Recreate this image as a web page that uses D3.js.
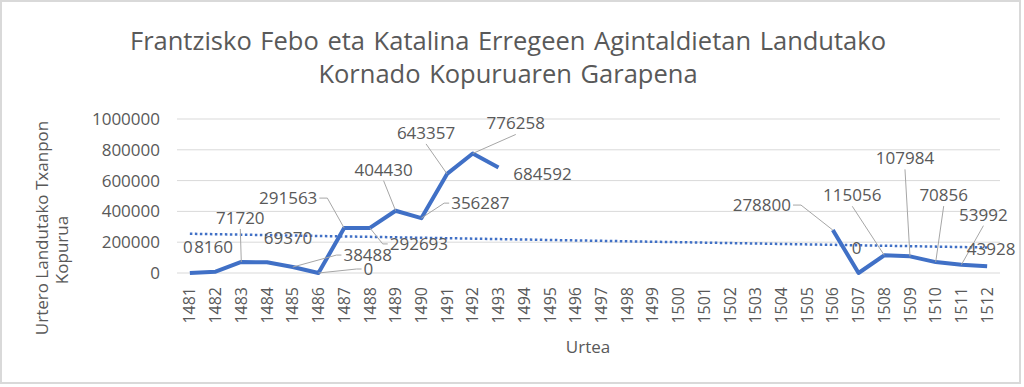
<!DOCTYPE html>
<html>
<head>
<meta charset="utf-8">
<script src="https://cdn.jsdelivr.net/npm/d3@7"></script>
<style>
  body { margin: 0; background: #fff; }
  text { font-family: "Open Sans", sans-serif; fill: #595959; }
</style>
</head>
<body>
<div class="chart"></div>
<script>
/* global d3 */
var years = d3.range(1481, 1513).map(String);
var values = [0, 8160, 71720, 69370, 38488, 0, 291563, 292693, 404430, 356287, 643357, 776258, 684592,
              null, null, null, null, null, null, null, null, null, null, null, null,
              278800, 0, 115056, 107984, 70856, 53992, 43928];
var yTicks = [0, 200000, 400000, 600000, 800000, 1000000];
var titleLines = ["Frantzisko Febo eta Katalina Erregeen Agintaldietan Landutako", "Kornado Kopuruaren Garapena"];

// label placement (offset of label centre from its point) and leader side
var labelDx = [-2, -2, -1, 21, 75, 50, -56, 49, -12, 59, -21, 43, 44,
               0, 0, 0, 0, 0, 0, 0, 0, 0, 0, 0, 0,
               -71, -2, -32, -5, 8, 22, 4];
var labelDy = [-26, -25, -44, -24, -12, -4, -30, 16, -41, -15, -41, -30, 6,
               0, 0, 0, 0, 0, 0, 0, 0, 0, 0, 0, 0,
               -25, -25, -60, -98, -67, -50, -17];
var leader = ["", "", "b", "", "l", "l", "r", "l", "b", "l", "b", "b", "",
              "", "", "", "", "", "", "", "", "", "", "", "",
              "r", "", "b", "b", "b", "b", ""];

make_chart();

function make_chart() {
  var width = 1024, height = 387;
  var blue = "#4070C6";

  var svg = d3.select(".chart").append("svg")
    .attr("width", width)
    .attr("height", height);

  svg.append("rect")
    .attr("x", 1).attr("y", 1)
    .attr("width", 1019).attr("height", 382)
    .attr("fill", "white")
    .attr("stroke", "#d9d9d9")
    .attr("stroke-width", 2);

  var x = d3.scaleBand().domain(years).range([177, 1000]);
  var y = d3.scaleLinear().domain([0, 1000000]).range([273, 119]);
  var cx = function(yr) { return x(yr) + x.bandwidth() / 2; };

  // title
  svg.append("g").selectAll("text")
    .data(titleLines)
    .enter().append("text")
    .attr("x", 508)
    .attr("y", function(d, i) { return 50 + i * 33; })
    .attr("text-anchor", "middle")
    .style("font-size", "25.5px")
    .style("word-spacing", "2px")
    .text(function(d) { return d; });

  // gridlines
  svg.append("g").selectAll("line")
    .data(yTicks)
    .enter().append("line")
    .attr("x1", 177).attr("x2", 1000)
    .attr("y1", function(d) { return y(d); })
    .attr("y2", function(d) { return y(d); })
    .attr("stroke", "#d9d9d9")
    .attr("stroke-width", 1);

  // y axis labels
  svg.append("g").selectAll("text")
    .data(yTicks)
    .enter().append("text")
    .attr("x", 160)
    .attr("y", function(d) { return y(d); })
    .attr("dy", "0.35em")
    .attr("text-anchor", "end")
    .style("font-size", "17px")
    .text(function(d) { return d; });

  // x axis labels
  svg.append("g").selectAll("text")
    .data(years)
    .enter().append("text")
    .attr("transform", function(d) { return "translate(" + cx(d) + ",287) rotate(-90)"; })
    .attr("dy", "0.35em")
    .attr("text-anchor", "end")
    .style("font-size", "16px")
    .text(function(d) { return d; });

  // axis titles
  svg.append("text")
    .attr("x", 588).attr("y", 353)
    .attr("text-anchor", "middle")
    .style("font-size", "17px")
    .text("Urtea");
  svg.append("text")
    .attr("transform", "translate(48,228) rotate(-90)")
    .attr("text-anchor", "middle")
    .style("font-size", "17px")
    .text("Urtero Landutako Txanpon");
  svg.append("text")
    .attr("transform", "translate(68,250) rotate(-90)")
    .attr("text-anchor", "middle")
    .style("font-size", "17px")
    .text("Kopurua");

  var points = years.map(function(yr, i) { return {year: yr, v: values[i], i: i}; });
  var valid = points.filter(function(d) { return d.v != null; });

  // linear trendline (Excel style, over category index)
  var mx = d3.mean(valid, function(d) { return d.i + 1; });
  var my = d3.mean(valid, function(d) { return d.v; });
  var sxy = d3.sum(valid, function(d) { return (d.i + 1 - mx) * (d.v - my); });
  var sxx = d3.sum(valid, function(d) { return (d.i + 1 - mx) * (d.i + 1 - mx); });
  var slope = sxy / sxx, icpt = my - slope * mx;
  var trend = [points[0], points[points.length - 1]];

  svg.append("path")
    .datum(trend)
    .attr("d", d3.line()
      .x(function(d) { return cx(d.year); })
      .y(function(d) { return y(icpt + slope * (d.i + 1)); }))
    .attr("fill", "none")
    .attr("stroke", blue)
    .attr("stroke-width", 2.5)
    .attr("stroke-dasharray", "2.5,2.5");

  // main line
  svg.append("path")
    .datum(points)
    .attr("d", d3.line()
      .defined(function(d) { return d.v != null; })
      .x(function(d) { return cx(d.year); })
      .y(function(d) { return y(d.v); }))
    .attr("fill", "none")
    .attr("stroke", blue)
    .attr("stroke-width", 4)
    .attr("stroke-linejoin", "round");

  // data labels + leader lines
  var lab = svg.append("g");
  valid.forEach(function(d) {
    var px = cx(d.year), py = y(d.v);
    var lx = px + labelDx[d.i], ly = py + labelDy[d.i];
    var t = lab.append("text")
      .attr("x", lx).attr("y", ly)
      .attr("dy", "0.35em")
      .attr("text-anchor", "middle")
      .style("font-size", "17px")
      .text(d.v);
    var w = t.node().getComputedTextLength();
    var side = leader[d.i], pts = null;
    if (side == "b") {
      pts = [[lx, ly + 11], [px, py]];
    } else if (side == "l") {
      pts = [[lx - w / 2 - 2, ly], [lx - w / 2 - 7, ly], [px, py]];
    } else if (side == "r") {
      pts = [[lx + w / 2 + 2, ly], [lx + w / 2 + 10, ly], [px, py]];
    }
    if (pts) {
      lab.insert("path", "text")
        .attr("d", d3.line()(pts))
        .attr("fill", "none")
        .attr("stroke", "#a6a6a6")
        .attr("stroke-width", 1);
    }
  });
}
</script>
</body>
</html>
